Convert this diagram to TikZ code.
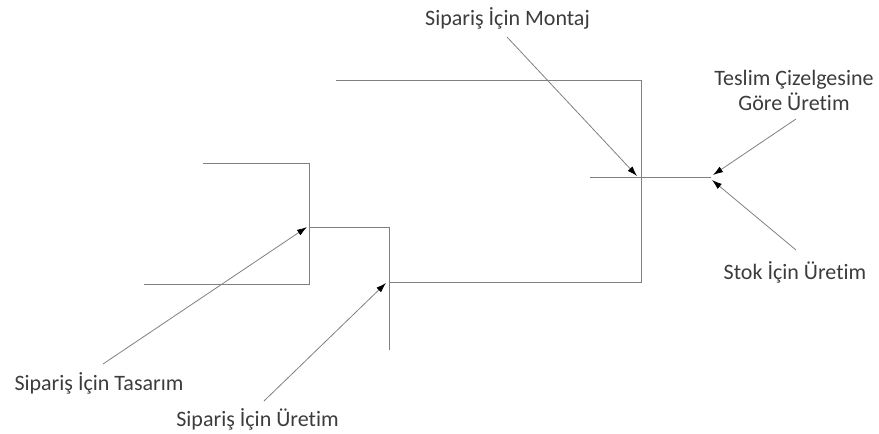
\documentclass[tikz,border=0pt]{standalone}
\usepackage{fontspec}
\setmainfont{Carlito}[Ligatures=NoCommon]
\usetikzlibrary{arrows.meta}
\definecolor{linegray}{RGB}{128,128,128}
\definecolor{textgray}{RGB}{60,60,60}
\tikzset{
  bracket/.style={draw=linegray, line width=1pt},
  pointer/.style={draw=linegray, line width=0.8pt, -{Latex[length=10pt,width=6.5pt,color=black]}},
  lbl/.style={text=textgray, inner sep=0pt, font=\fontsize{22}{25}\selectfont, align=center}
}
\begin{document}
\begin{tikzpicture}[x=1pt,y=-1pt]
\useasboundingbox (0,0) rectangle (879,434);
% labels
\node[lbl] (montaj) at (507.5,18) {Sipariş İçin Montaj};
\node[lbl] (teslim) at (794,90) {Teslim Çizelgesine\\Göre Üretim};
\node[lbl] (stok) at (795,272) {Stok İçin Üretim};
\node[lbl] (tasarim) at (99,383) {Sipariş İçin Tasarım};
\node[lbl] (uretim) at (257.5,419) {Sipariş İçin Üretim};
% junction points
\coordinate (j1) at (309,227);
\coordinate (j2) at (389,282);
\coordinate (j3) at (641,177);
\coordinate (j4) at (711,177);
% arrow starts
\coordinate (s1) at (103,364);
\coordinate (s2) at (264,401);
\coordinate (s3) at (507,37);
\coordinate (s4) at (796,119);
\coordinate (s5) at (796,250);
% brackets
\draw[bracket] (203,163) -| (309,284) -- (144,284);
\draw[bracket] (j1) -| (389,350);
\draw[bracket] (j2) -| (641,80) -- (336,80);
\draw[bracket] (590,177) -- (j4);
% pointers
\draw[pointer] (s1) -- ([shift={(-2,0)}]j1);
\draw[pointer] (s2) -- ([shift={(-3,1)}]j2);
\draw[pointer] (s3) -- ([shift={(-4,-1)}]j3);
\draw[pointer] (s4) -- ([shift={(2,-2)}]j4);
\draw[pointer] (s5) -- ([shift={(1,3)}]j4);
\end{tikzpicture}
\end{document}
